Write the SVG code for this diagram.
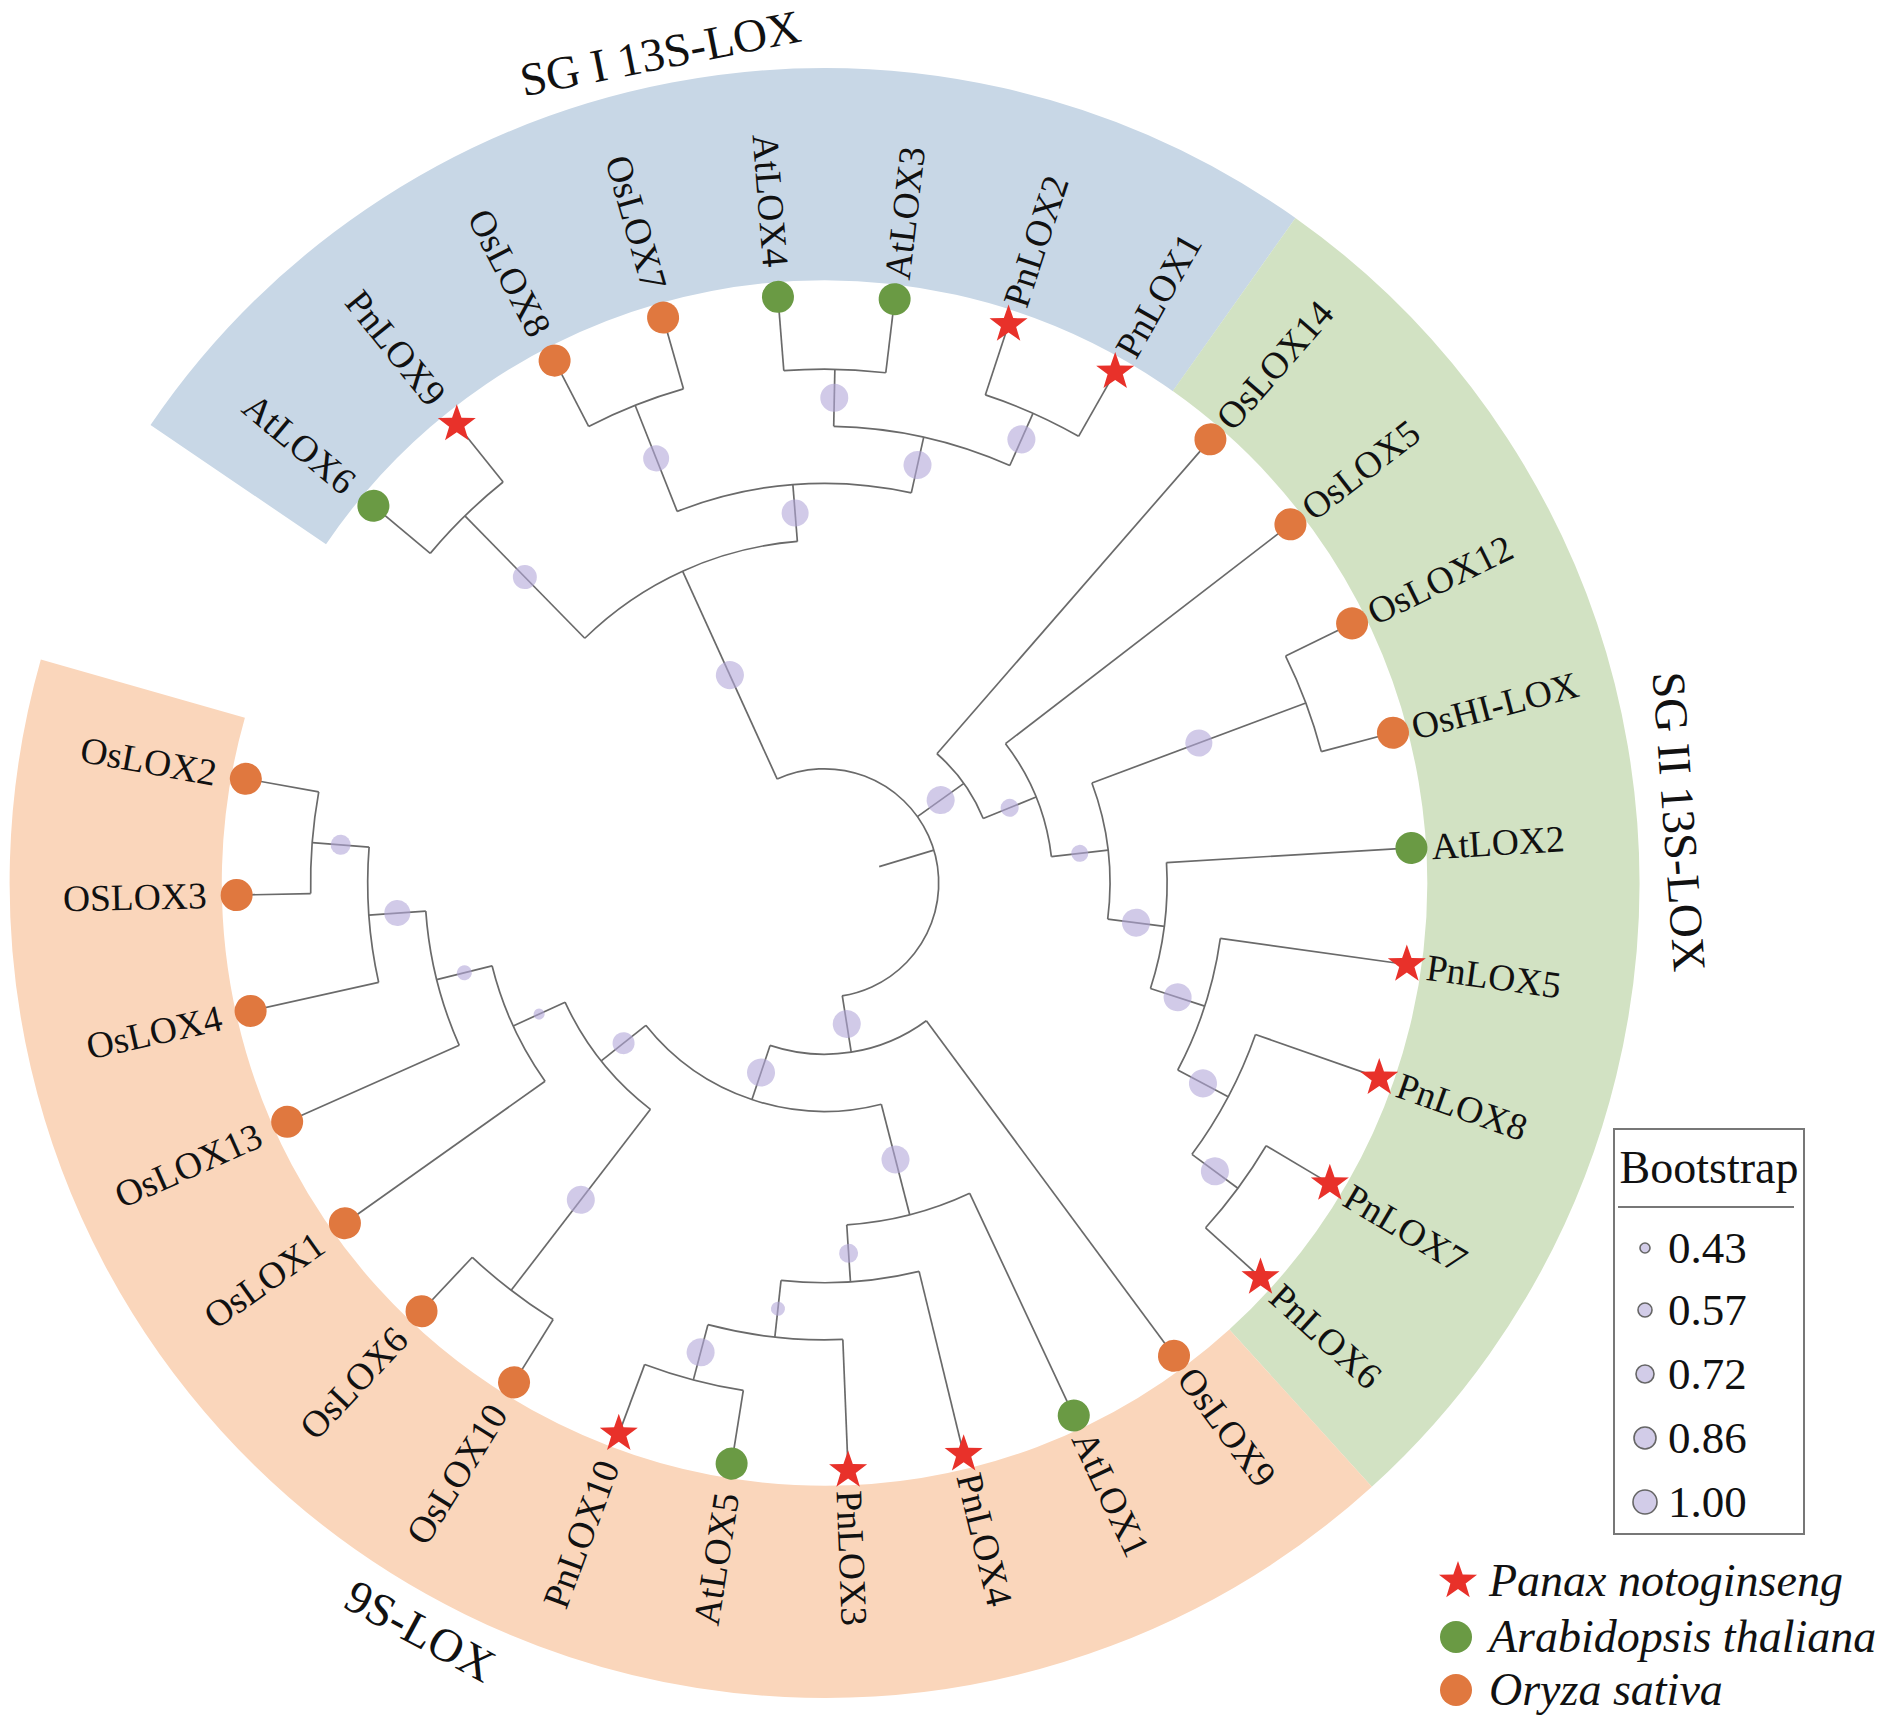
<svg xmlns="http://www.w3.org/2000/svg" xmlns:xlink="http://www.w3.org/1999/xlink" width="1890" height="1725" viewBox="0 0 1890 1725">
<style>
.e{stroke:#6a6a6a;stroke-width:1.7;fill:none}
.bs{fill:#b3a7d8;fill-opacity:0.6}
.os{fill:#e0783f}
.at{fill:#6a9a44}
.pn{fill:#e8312a}
.lb{font-family:"Liberation Serif",serif;font-size:37.5px;fill:#111;dominant-baseline:central}
.gl{font-family:"Liberation Serif",serif;font-size:47px;fill:#111;dominant-baseline:central;text-anchor:middle}
.lg{font-family:"Liberation Serif",serif;font-size:45px;fill:#111;dominant-baseline:central}
.sp{font-family:"Liberation Serif",serif;font-size:46px;font-style:italic;fill:#111;dominant-baseline:central}
.lbs{fill:#d2cce8;stroke:#666;stroke-width:1.6}
</style>
<defs>
<path id="star" d="M0,-20 L4.7,-6.47 L19.02,-6.18 L7.61,2.47 L11.76,16.18 L0,8 L-11.76,16.18 L-7.61,2.47 L-19.02,-6.18 L-4.7,-6.47 Z"/>
</defs>
<rect width="1890" height="1725" fill="#fff"/>
<g transform="translate(824.5,883)">
<g id="bands" fill="none" stroke-width="212.2">
<circle r="708.8" stroke="#c8d7e6" stroke-dasharray="1127 5000" transform="rotate(214.2)"/>
<circle r="708.8" stroke="#d2e2c3" stroke-dasharray="1268 5000" transform="rotate(305.3)"/>
<circle r="708.8" stroke="#fad6bb" stroke-dasharray="1832.1 5000" transform="rotate(407.8)"/>
</g>
<g id="connectors" class="e">
<line x1="513.9" x2="588" transform="rotate(219.9)"/>
<line x1="513.9" x2="588" transform="rotate(231.29)"/>
<line x1="513.9" x2="588" transform="rotate(242.68)"/>
<line x1="513.9" x2="588" transform="rotate(254.07)"/>
<line x1="513.9" x2="588" transform="rotate(265.46)"/>
<line x1="513.9" x2="588" transform="rotate(276.85)"/>
<line x1="513.9" x2="588" transform="rotate(288.24)"/>
<line x1="513.9" x2="588" transform="rotate(299.63)"/>
<line x1="171.3" x2="588" transform="rotate(311.02)"/>
<line x1="228.4" x2="588" transform="rotate(322.41)"/>
<line x1="513.9" x2="588" transform="rotate(333.8)"/>
<line x1="513.9" x2="588" transform="rotate(345.19)"/>
<line x1="342.6" x2="588" transform="rotate(356.58)"/>
<line x1="399.7" x2="588" transform="rotate(367.97)"/>
<line x1="456.8" x2="588" transform="rotate(379.36)"/>
<line x1="513.9" x2="588" transform="rotate(390.75)"/>
<line x1="513.9" x2="588" transform="rotate(402.14)"/>
<line x1="171.3" x2="588" transform="rotate(413.53)"/>
<line x1="342.6" x2="588" transform="rotate(424.92)"/>
<line x1="399.7" x2="588" transform="rotate(436.31)"/>
<line x1="456.8" x2="588" transform="rotate(447.7)"/>
<line x1="513.9" x2="588" transform="rotate(459.09)"/>
<line x1="513.9" x2="588" transform="rotate(470.48)"/>
<line x1="513.9" x2="588" transform="rotate(481.87)"/>
<line x1="513.9" x2="588" transform="rotate(493.26)"/>
<line x1="342.6" x2="588" transform="rotate(504.65)"/>
<line x1="399.7" x2="588" transform="rotate(516.04)"/>
<line x1="456.8" x2="588" transform="rotate(527.43)"/>
<line x1="513.9" x2="588" transform="rotate(538.82)"/>
<line x1="513.9" x2="588" transform="rotate(550.21)"/>
<line x1="342.6" x2="513.9" transform="rotate(225.595)"/>
<line x1="399.7" x2="513.9" transform="rotate(248.375)"/>
<line x1="456.8" x2="513.9" transform="rotate(271.155)"/>
<line x1="456.8" x2="513.9" transform="rotate(293.935)"/>
<line x1="399.7" x2="456.8" transform="rotate(282.545)"/>
<line x1="342.6" x2="399.7" transform="rotate(265.46)"/>
<line x1="114.2" x2="342.6" transform="rotate(245.5275)"/>
<line x1="285.5" x2="513.9" transform="rotate(339.495)"/>
<line x1="456.8" x2="513.9" transform="rotate(396.445)"/>
<line x1="399.7" x2="456.8" transform="rotate(387.9025)"/>
<line x1="342.6" x2="399.7" transform="rotate(377.936)"/>
<line x1="285.5" x2="342.6" transform="rotate(367.258)"/>
<line x1="228.4" x2="285.5" transform="rotate(353.3765)"/>
<line x1="171.3" x2="228.4" transform="rotate(337.893)"/>
<line x1="114.2" x2="171.3" transform="rotate(324.4565)"/>
<line x1="456.8" x2="513.9" transform="rotate(544.515)"/>
<line x1="399.7" x2="456.8" transform="rotate(535.9725)"/>
<line x1="342.6" x2="399.7" transform="rotate(526.006)"/>
<line x1="285.5" x2="342.6" transform="rotate(515.328)"/>
<line x1="285.5" x2="513.9" transform="rotate(487.565)"/>
<line x1="228.4" x2="285.5" transform="rotate(501.4465)"/>
<line x1="456.8" x2="513.9" transform="rotate(464.785)"/>
<line x1="399.7" x2="456.8" transform="rotate(456.2425)"/>
<line x1="342.6" x2="399.7" transform="rotate(446.276)"/>
<line x1="228.4" x2="342.6" transform="rotate(435.598)"/>
<line x1="171.3" x2="228.4" transform="rotate(468.522)"/>
<line x1="114.2" x2="171.3" transform="rotate(441.026)"/>
<line x1="57.1" x2="114.2" transform="rotate(343.28)"/>
<circle r="513.9" stroke-dasharray="102.16 5000" transform="rotate(219.9)"/>
<circle r="513.9" stroke-dasharray="102.16 5000" transform="rotate(242.68)"/>
<circle r="513.9" stroke-dasharray="102.16 5000" transform="rotate(265.46)"/>
<circle r="513.9" stroke-dasharray="102.16 5000" transform="rotate(288.24)"/>
<circle r="456.8" stroke-dasharray="181.62 5000" transform="rotate(271.155)"/>
<circle r="399.7" stroke-dasharray="238.37 5000" transform="rotate(248.375)"/>
<circle r="342.6" stroke-dasharray="238.37 5000" transform="rotate(225.595)"/>
<circle r="513.9" stroke-dasharray="102.16 5000" transform="rotate(333.8)"/>
<circle r="513.9" stroke-dasharray="102.16 5000" transform="rotate(390.75)"/>
<circle r="456.8" stroke-dasharray="136.21 5000" transform="rotate(379.36)"/>
<circle r="399.7" stroke-dasharray="139.05 5000" transform="rotate(367.97)"/>
<circle r="342.6" stroke-dasharray="127.7 5000" transform="rotate(356.58)"/>
<circle r="285.5" stroke-dasharray="138.34 5000" transform="rotate(339.495)"/>
<circle r="228.4" stroke-dasharray="123.44 5000" transform="rotate(322.41)"/>
<circle r="171.3" stroke-dasharray="80.34 5000" transform="rotate(311.02)"/>
<circle r="513.9" stroke-dasharray="102.16 5000" transform="rotate(538.82)"/>
<circle r="456.8" stroke-dasharray="136.21 5000" transform="rotate(527.43)"/>
<circle r="399.7" stroke-dasharray="139.05 5000" transform="rotate(516.04)"/>
<circle r="342.6" stroke-dasharray="127.7 5000" transform="rotate(504.65)"/>
<circle r="513.9" stroke-dasharray="102.16 5000" transform="rotate(481.87)"/>
<circle r="285.5" stroke-dasharray="138.34 5000" transform="rotate(487.565)"/>
<circle r="513.9" stroke-dasharray="102.16 5000" transform="rotate(459.09)"/>
<circle r="456.8" stroke-dasharray="136.21 5000" transform="rotate(447.7)"/>
<circle r="399.7" stroke-dasharray="139.05 5000" transform="rotate(436.31)"/>
<circle r="342.6" stroke-dasharray="127.7 5000" transform="rotate(424.92)"/>
<circle r="228.4" stroke-dasharray="262.49 5000" transform="rotate(435.598)"/>
<circle r="171.3" stroke-dasharray="164.41 5000" transform="rotate(413.53)"/>
<circle r="114.2" stroke-dasharray="389.66 5000" transform="rotate(245.5275)"/>
</g>
<g id="bootstrap" class="bs">
<circle cx="428.25" r="12" transform="rotate(225.595)"/>
<circle cx="456.8" r="13" transform="rotate(248.375)"/>
<circle cx="485.35" r="14" transform="rotate(271.155)"/>
<circle cx="485.35" r="14" transform="rotate(293.935)"/>
<circle cx="428.25" r="14" transform="rotate(282.545)"/>
<circle cx="371.15" r="13.5" transform="rotate(265.46)"/>
<circle cx="228.4" r="14" transform="rotate(245.5275)"/>
<circle cx="399.7" r="13.5" transform="rotate(339.495)"/>
<circle cx="485.35" r="14" transform="rotate(396.445)"/>
<circle cx="428.25" r="14" transform="rotate(387.9025)"/>
<circle cx="371.15" r="14" transform="rotate(377.936)"/>
<circle cx="314.05" r="14" transform="rotate(367.258)"/>
<circle cx="256.95" r="8.5" transform="rotate(353.3765)"/>
<circle cx="199.85" r="9" transform="rotate(337.893)"/>
<circle cx="142.75" r="14" transform="rotate(324.4565)"/>
<circle cx="485.35" r="10" transform="rotate(544.515)"/>
<circle cx="428.25" r="13" transform="rotate(535.9725)"/>
<circle cx="371.15" r="7.5" transform="rotate(526.006)"/>
<circle cx="314.05" r="5.5" transform="rotate(515.328)"/>
<circle cx="399.7" r="14" transform="rotate(487.565)"/>
<circle cx="256.95" r="11" transform="rotate(501.4465)"/>
<circle cx="485.35" r="14" transform="rotate(464.785)"/>
<circle cx="428.25" r="7" transform="rotate(456.2425)"/>
<circle cx="371.15" r="9.5" transform="rotate(446.276)"/>
<circle cx="285.5" r="14" transform="rotate(435.598)"/>
<circle cx="199.85" r="14" transform="rotate(468.522)"/>
<circle cx="142.75" r="14" transform="rotate(441.026)"/>
</g>
<g id="nodes">
<g id="n-AtLOX6" transform="rotate(219.9)"><circle class="at" cx="588" r="16"/><text class="lb" transform="rotate(180)" x="-618" text-anchor="end">AtLOX6</text></g>
<g id="n-PnLOX9" transform="rotate(231.29)"><use href="#star" class="pn" transform="translate(588,0) rotate(-231.29)"/><text class="lb" transform="rotate(180)" x="-618" text-anchor="end">PnLOX9</text></g>
<g id="n-OsLOX8" transform="rotate(242.68)"><circle class="os" cx="588" r="16"/><text class="lb" transform="rotate(180)" x="-618" text-anchor="end">OsLOX8</text></g>
<g id="n-OsLOX7" transform="rotate(254.07)"><circle class="os" cx="588" r="16"/><text class="lb" transform="rotate(180)" x="-618" text-anchor="end">OsLOX7</text></g>
<g id="n-AtLOX4" transform="rotate(265.46)"><circle class="at" cx="588" r="16"/><text class="lb" transform="rotate(180)" x="-618" text-anchor="end">AtLOX4</text></g>
<g id="n-AtLOX3" transform="rotate(276.85)"><circle class="at" cx="588" r="16"/><text class="lb" x="608">AtLOX3</text></g>
<g id="n-PnLOX2" transform="rotate(288.24)"><use href="#star" class="pn" transform="translate(588,0) rotate(-288.24)"/><text class="lb" x="608">PnLOX2</text></g>
<g id="n-PnLOX1" transform="rotate(299.63)"><use href="#star" class="pn" transform="translate(588,0) rotate(-299.63)"/><text class="lb" x="608">PnLOX1</text></g>
<g id="n-OsLOX14" transform="rotate(311.02)"><circle class="os" cx="588" r="16"/><text class="lb" x="608">OsLOX14</text></g>
<g id="n-OsLOX5" transform="rotate(322.41)"><circle class="os" cx="588" r="16"/><text class="lb" x="608">OsLOX5</text></g>
<g id="n-OsLOX12" transform="rotate(333.8)"><circle class="os" cx="588" r="16"/><text class="lb" x="608">OsLOX12</text></g>
<g id="n-OsHI-LOX" transform="rotate(345.19)"><circle class="os" cx="588" r="16"/><text class="lb" x="608">OsHI-LOX</text></g>
<g id="n-AtLOX2" transform="rotate(356.58)"><circle class="at" cx="588" r="16"/><text class="lb" x="608">AtLOX2</text></g>
<g id="n-PnLOX5" transform="rotate(7.97)"><use href="#star" class="pn" transform="translate(588,0) rotate(-7.97)"/><text class="lb" x="608">PnLOX5</text></g>
<g id="n-PnLOX8" transform="rotate(19.36)"><use href="#star" class="pn" transform="translate(588,0) rotate(-19.36)"/><text class="lb" x="608">PnLOX8</text></g>
<g id="n-PnLOX7" transform="rotate(30.75)"><use href="#star" class="pn" transform="translate(588,0) rotate(-30.75)"/><text class="lb" x="608">PnLOX7</text></g>
<g id="n-PnLOX6" transform="rotate(42.14)"><use href="#star" class="pn" transform="translate(588,0) rotate(-42.14)"/><text class="lb" x="608">PnLOX6</text></g>
<g id="n-OsLOX9" transform="rotate(53.53)"><circle class="os" cx="588" r="16"/><text class="lb" x="608">OsLOX9</text></g>
<g id="n-AtLOX1" transform="rotate(64.92)"><circle class="at" cx="588" r="16"/><text class="lb" x="608">AtLOX1</text></g>
<g id="n-PnLOX4" transform="rotate(76.31)"><use href="#star" class="pn" transform="translate(588,0) rotate(-76.31)"/><text class="lb" x="608">PnLOX4</text></g>
<g id="n-PnLOX3" transform="rotate(87.7)"><use href="#star" class="pn" transform="translate(588,0) rotate(-87.7)"/><text class="lb" x="608">PnLOX3</text></g>
<g id="n-AtLOX5" transform="rotate(99.09)"><circle class="at" cx="588" r="16"/><text class="lb" transform="rotate(180)" x="-618" text-anchor="end">AtLOX5</text></g>
<g id="n-PnLOX10" transform="rotate(110.48)"><use href="#star" class="pn" transform="translate(588,0) rotate(-110.48)"/><text class="lb" transform="rotate(180)" x="-618" text-anchor="end">PnLOX10</text></g>
<g id="n-OsLOX10" transform="rotate(121.87)"><circle class="os" cx="588" r="16"/><text class="lb" transform="rotate(180)" x="-618" text-anchor="end">OsLOX10</text></g>
<g id="n-OsLOX6" transform="rotate(133.26)"><circle class="os" cx="588" r="16"/><text class="lb" transform="rotate(180)" x="-618" text-anchor="end">OsLOX6</text></g>
<g id="n-OsLOX1" transform="rotate(144.65)"><circle class="os" cx="588" r="16"/><text class="lb" transform="rotate(180)" x="-618" text-anchor="end">OsLOX1</text></g>
<g id="n-OsLOX13" transform="rotate(156.04)"><circle class="os" cx="588" r="16"/><text class="lb" transform="rotate(180)" x="-618" text-anchor="end">OsLOX13</text></g>
<g id="n-OsLOX4" transform="rotate(167.43)"><circle class="os" cx="588" r="16"/><text class="lb" transform="rotate(180)" x="-618" text-anchor="end">OsLOX4</text></g>
<g id="n-OSLOX3" transform="rotate(178.82)"><circle class="os" cx="588" r="16"/><text class="lb" transform="rotate(180)" x="-618" text-anchor="end">OSLOX3</text></g>
<g id="n-OsLOX2" transform="rotate(190.21)"><circle class="os" cx="588" r="16"/><text class="lb" transform="rotate(180)" x="-618" text-anchor="end">OsLOX2</text></g>
</g>
<g id="group-labels">
<text class="gl" transform="rotate(258.8) translate(846,0) rotate(90)">SG I 13S-LOX</text>
<text class="gl" transform="rotate(355.9) translate(857,0) rotate(90)">SG II 13S-LOX</text>
<text class="gl" transform="rotate(118.4) translate(850,0) rotate(-90)">9S-LOX</text>
</g>
</g>
<g id="legend-bootstrap">
<rect x="1614" y="1129" width="190" height="405" fill="none" stroke="#777" stroke-width="2"/>
<text x="1709" y="1183" font-family="Liberation Serif, serif" font-size="46" text-anchor="middle" fill="#111">Bootstrap</text>
<line x1="1618" y1="1207" x2="1794" y2="1207" stroke="#777" stroke-width="2"/>
<circle class="lbs" cx="1645" cy="1248" r="5"/><text class="lg" x="1668" y="1248">0.43</text>
<circle class="lbs" cx="1645" cy="1310" r="7"/><text class="lg" x="1668" y="1310">0.57</text>
<circle class="lbs" cx="1645" cy="1374" r="9"/><text class="lg" x="1668" y="1374">0.72</text>
<circle class="lbs" cx="1645" cy="1438" r="11"/><text class="lg" x="1668" y="1438">0.86</text>
<circle class="lbs" cx="1645" cy="1502" r="12"/><text class="lg" x="1668" y="1502">1.00</text>
</g>
<g id="legend-species">
<use href="#star" class="pn" transform="translate(1458,1581)"/><text class="sp" x="1489" y="1580">Panax notoginseng</text>
<circle class="at" cx="1456" cy="1637" r="16"/><text class="sp" x="1489" y="1636">Arabidopsis thaliana</text>
<circle class="os" cx="1456" cy="1690" r="16"/><text class="sp" x="1489" y="1689">Oryza sativa</text>
</g>
</svg>
